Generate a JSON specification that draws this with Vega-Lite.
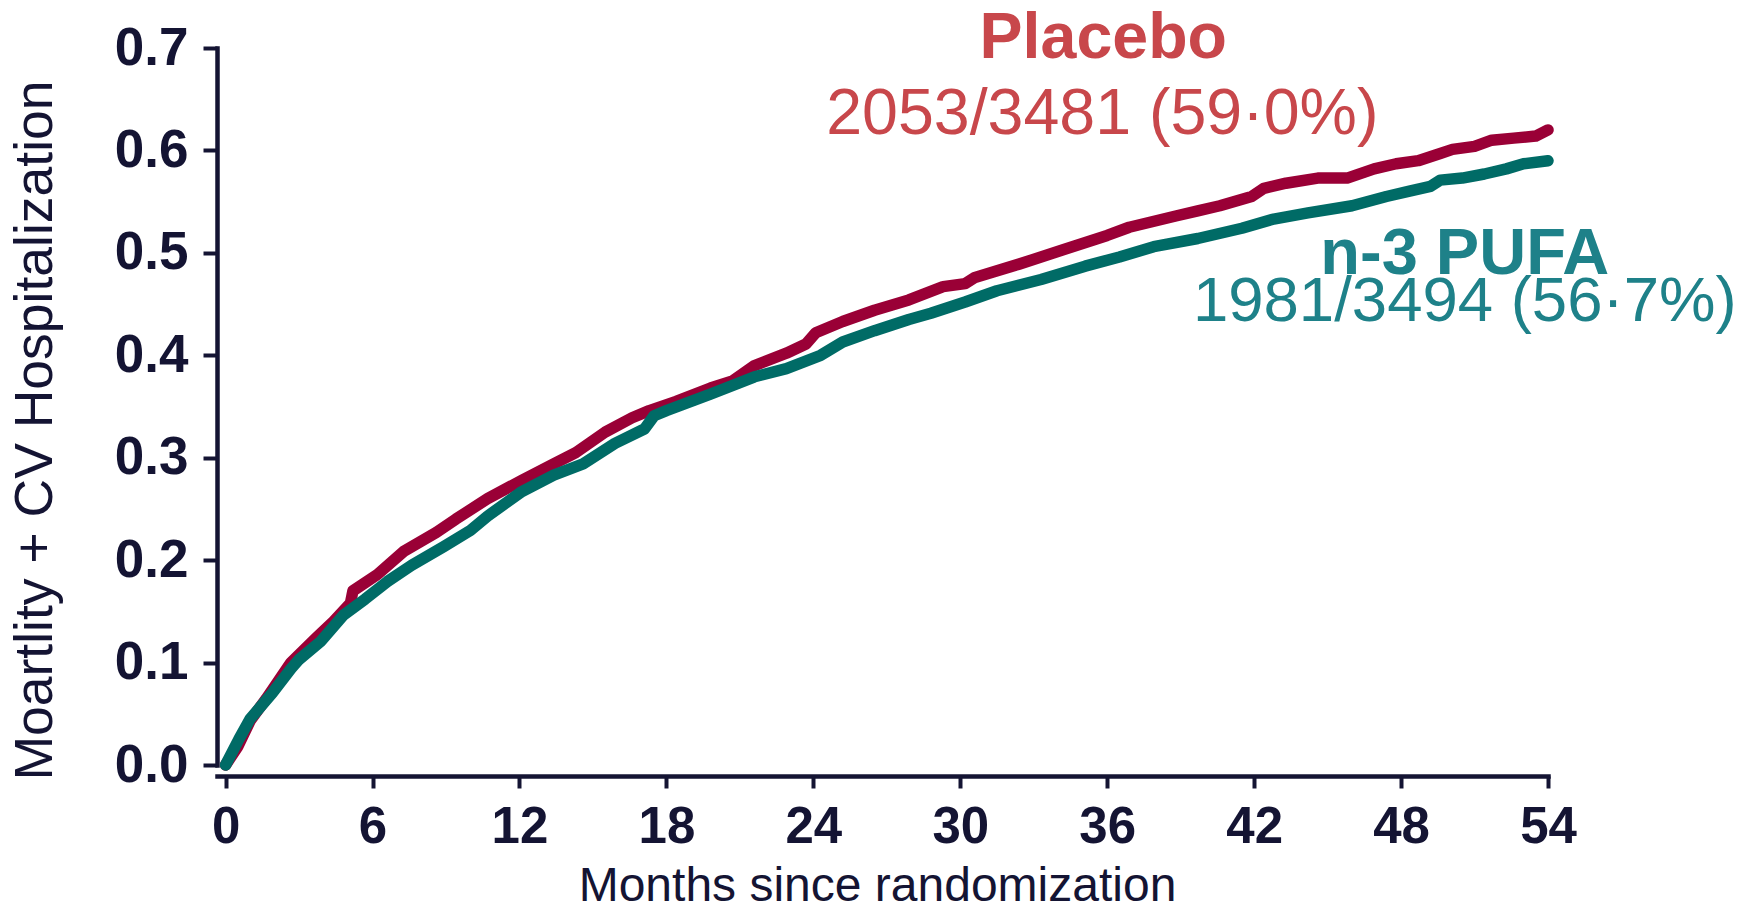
{
  "$schema": "https://vega.github.io/schema/vega-lite/v6.json",
  "width": 1331,
  "height": 717,
  "autosize": "none",
  "padding": {"left": 217, "top": 48, "right": 190, "bottom": 140},
  "background": "white",
  "config": {"view": {"stroke": null}, "font": "Liberation Sans"},
  "datasets": {
    "km": [
      {"group": "Placebo", "month": 0, "value": 0},
      {"group": "Placebo", "month": 0.5, "value": 0.018},
      {"group": "Placebo", "month": 1.0, "value": 0.043},
      {"group": "Placebo", "month": 1.67, "value": 0.065},
      {"group": "Placebo", "month": 2.67, "value": 0.1},
      {"group": "Placebo", "month": 3.7, "value": 0.124},
      {"group": "Placebo", "month": 4.4, "value": 0.14},
      {"group": "Placebo", "month": 5.1, "value": 0.158},
      {"group": "Placebo", "month": 5.2, "value": 0.17},
      {"group": "Placebo", "month": 6.2, "value": 0.186},
      {"group": "Placebo", "month": 7.3, "value": 0.209},
      {"group": "Placebo", "month": 8.6, "value": 0.227},
      {"group": "Placebo", "month": 9.4, "value": 0.24},
      {"group": "Placebo", "month": 10.7, "value": 0.26},
      {"group": "Placebo", "month": 12.1, "value": 0.278},
      {"group": "Placebo", "month": 13.4, "value": 0.294},
      {"group": "Placebo", "month": 14.3, "value": 0.305},
      {"group": "Placebo", "month": 15.5, "value": 0.325},
      {"group": "Placebo", "month": 16.6, "value": 0.339},
      {"group": "Placebo", "month": 17.3, "value": 0.346},
      {"group": "Placebo", "month": 18.4, "value": 0.355},
      {"group": "Placebo", "month": 19.8, "value": 0.368},
      {"group": "Placebo", "month": 20.7, "value": 0.375},
      {"group": "Placebo", "month": 21.6, "value": 0.39},
      {"group": "Placebo", "month": 22.9, "value": 0.402},
      {"group": "Placebo", "month": 23.7, "value": 0.411},
      {"group": "Placebo", "month": 24.1, "value": 0.422},
      {"group": "Placebo", "month": 25.2, "value": 0.433},
      {"group": "Placebo", "month": 26.5, "value": 0.444},
      {"group": "Placebo", "month": 27.9, "value": 0.454},
      {"group": "Placebo", "month": 29.3, "value": 0.467},
      {"group": "Placebo", "month": 30.2, "value": 0.47},
      {"group": "Placebo", "month": 30.6, "value": 0.476},
      {"group": "Placebo", "month": 32.4, "value": 0.489},
      {"group": "Placebo", "month": 34.2, "value": 0.503},
      {"group": "Placebo", "month": 36.0, "value": 0.517},
      {"group": "Placebo", "month": 36.9, "value": 0.525},
      {"group": "Placebo", "month": 38.8, "value": 0.536},
      {"group": "Placebo", "month": 39.7, "value": 0.541},
      {"group": "Placebo", "month": 40.6, "value": 0.546},
      {"group": "Placebo", "month": 41.9, "value": 0.555},
      {"group": "Placebo", "month": 42.4, "value": 0.563},
      {"group": "Placebo", "month": 43.3, "value": 0.568},
      {"group": "Placebo", "month": 44.6, "value": 0.573},
      {"group": "Placebo", "month": 45.8, "value": 0.573},
      {"group": "Placebo", "month": 46.9, "value": 0.582},
      {"group": "Placebo", "month": 47.8, "value": 0.587},
      {"group": "Placebo", "month": 48.7, "value": 0.59},
      {"group": "Placebo", "month": 49.6, "value": 0.597},
      {"group": "Placebo", "month": 50.1, "value": 0.601},
      {"group": "Placebo", "month": 51.0, "value": 0.604},
      {"group": "Placebo", "month": 51.7, "value": 0.61},
      {"group": "Placebo", "month": 52.6, "value": 0.612},
      {"group": "Placebo", "month": 53.5, "value": 0.614},
      {"group": "Placebo", "month": 54.0, "value": 0.62},
      {"group": "n-3 PUFA", "month": 0, "value": 0},
      {"group": "n-3 PUFA", "month": 0.54, "value": 0.025},
      {"group": "n-3 PUFA", "month": 1.0, "value": 0.045},
      {"group": "n-3 PUFA", "month": 1.9, "value": 0.07},
      {"group": "n-3 PUFA", "month": 2.67, "value": 0.094},
      {"group": "n-3 PUFA", "month": 3.0, "value": 0.103},
      {"group": "n-3 PUFA", "month": 3.9, "value": 0.121},
      {"group": "n-3 PUFA", "month": 4.8, "value": 0.146},
      {"group": "n-3 PUFA", "month": 5.7, "value": 0.162},
      {"group": "n-3 PUFA", "month": 6.6, "value": 0.179},
      {"group": "n-3 PUFA", "month": 7.6, "value": 0.195},
      {"group": "n-3 PUFA", "month": 8.9, "value": 0.213},
      {"group": "n-3 PUFA", "month": 10.0, "value": 0.229},
      {"group": "n-3 PUFA", "month": 10.7, "value": 0.243},
      {"group": "n-3 PUFA", "month": 12.1, "value": 0.267},
      {"group": "n-3 PUFA", "month": 13.4, "value": 0.283},
      {"group": "n-3 PUFA", "month": 14.6, "value": 0.294},
      {"group": "n-3 PUFA", "month": 15.9, "value": 0.314},
      {"group": "n-3 PUFA", "month": 17.1, "value": 0.328},
      {"group": "n-3 PUFA", "month": 17.5, "value": 0.341},
      {"group": "n-3 PUFA", "month": 18.0, "value": 0.346},
      {"group": "n-3 PUFA", "month": 19.8, "value": 0.362},
      {"group": "n-3 PUFA", "month": 21.6, "value": 0.379},
      {"group": "n-3 PUFA", "month": 22.9, "value": 0.387},
      {"group": "n-3 PUFA", "month": 24.3, "value": 0.4},
      {"group": "n-3 PUFA", "month": 25.2, "value": 0.413},
      {"group": "n-3 PUFA", "month": 26.5, "value": 0.424},
      {"group": "n-3 PUFA", "month": 27.9, "value": 0.435},
      {"group": "n-3 PUFA", "month": 28.8, "value": 0.441},
      {"group": "n-3 PUFA", "month": 30.2, "value": 0.452},
      {"group": "n-3 PUFA", "month": 31.5, "value": 0.463},
      {"group": "n-3 PUFA", "month": 33.3, "value": 0.474},
      {"group": "n-3 PUFA", "month": 35.1, "value": 0.487},
      {"group": "n-3 PUFA", "month": 36.5, "value": 0.496},
      {"group": "n-3 PUFA", "month": 37.9, "value": 0.506},
      {"group": "n-3 PUFA", "month": 39.7, "value": 0.514},
      {"group": "n-3 PUFA", "month": 41.5, "value": 0.524},
      {"group": "n-3 PUFA", "month": 42.8, "value": 0.533},
      {"group": "n-3 PUFA", "month": 44.2, "value": 0.539},
      {"group": "n-3 PUFA", "month": 46.0, "value": 0.546},
      {"group": "n-3 PUFA", "month": 47.4, "value": 0.555},
      {"group": "n-3 PUFA", "month": 48.3, "value": 0.56},
      {"group": "n-3 PUFA", "month": 49.2, "value": 0.565},
      {"group": "n-3 PUFA", "month": 49.6, "value": 0.571},
      {"group": "n-3 PUFA", "month": 50.5, "value": 0.573},
      {"group": "n-3 PUFA", "month": 51.4, "value": 0.577},
      {"group": "n-3 PUFA", "month": 52.3, "value": 0.582},
      {"group": "n-3 PUFA", "month": 53.0, "value": 0.587},
      {"group": "n-3 PUFA", "month": 54.0, "value": 0.59}
    ]
  },
  "data": {"name": "km"},
  "layer": [
    {
      "transform": [{"filter": "datum.group === 'Placebo'"}],
      "mark": {"type": "line", "color": "#9a0036", "strokeWidth": 11.5, "strokeCap": "round", "strokeJoin": "round"},
      "encoding": {
        "x": {
          "field": "month", "type": "quantitative",
          "scale": {"domain": [-0.35, 54], "nice": false, "zero": false},
          "axis": {
            "values": [0, 6, 12, 18, 24, 30, 36, 42, 48, 54],
            "title": "Months since randomization",
            "titleFont": "Liberation Sans", "titleFontSize": 48, "titleFontWeight": "normal", "titleColor": "#141433",
            "titleX": 660, "titleY": 124, "titleBaseline": "alphabetic", "titleAnchor": null, "titleAlign": "center",
            "offset": 11,
            "domainColor": "#141433", "domainWidth": 4.5, "domainCap": "square",
            "tickColor": "#141433", "tickWidth": 4, "tickSize": 12,
            "labelFont": "Liberation Sans", "labelFontSize": 51, "labelFontWeight": "bold", "labelColor": "#141433",
            "labelPadding": 14, "labelFlush": false, "labelOverlap": false,
            "grid": false
          }
        },
        "y": {
          "field": "value", "type": "quantitative",
          "scale": {"domain": [0, 0.7], "nice": false},
          "axis": {
            "values": [0, 0.1, 0.2, 0.3, 0.4, 0.5, 0.6, 0.7],
            "format": ".1f",
            "title": "Moartlity + CV Hospitalization",
            "titleFont": "Liberation Sans", "titleFontSize": 53.5, "titleFontWeight": "normal", "titleColor": "#141433",
            "titleX": -155, "titleY": 382, "titleAngle": -90, "titleBaseline": "bottom", "titleAlign": "center", "titleAnchor": null,
            "domainColor": "#141433", "domainWidth": 4.5, "domainCap": "square",
            "tickColor": "#141433", "tickWidth": 4, "tickSize": 14,
            "labelFont": "Liberation Sans", "labelFontSize": 53, "labelFontWeight": "bold", "labelColor": "#141433",
            "labelPadding": 15, "labelFlush": false, "labelOverlap": false,
            "grid": false
          }
        }
      }
    },
    {
      "transform": [{"filter": "datum.group === 'n-3 PUFA'"}],
      "mark": {"type": "line", "color": "#006b66", "strokeWidth": 11.5, "strokeCap": "round", "strokeJoin": "round"},
      "encoding": {
        "x": {"field": "month", "type": "quantitative"},
        "y": {"field": "value", "type": "quantitative"}
      }
    },
    {
      "data": {"values": [{"label": "Placebo"}]},
      "mark": {"type": "text", "font": "Liberation Sans", "fontSize": 64.5, "fontWeight": "bold", "color": "#c8474b", "align": "center", "baseline": "alphabetic"},
      "encoding": {
        "x": {"datum": 35.84, "type": "quantitative"},
        "y": {"datum": 0.69, "type": "quantitative"},
        "text": {"field": "label"}
      }
    },
    {
      "data": {"values": [{"label": "2053/3481 (59·0%)"}]},
      "mark": {"type": "text", "font": "Liberation Sans", "fontSize": 64.5, "fontWeight": "normal", "color": "#c8474b", "align": "center", "baseline": "alphabetic"},
      "encoding": {
        "x": {"datum": 35.8, "type": "quantitative"},
        "y": {"datum": 0.616, "type": "quantitative"},
        "text": {"field": "label"}
      }
    },
    {
      "data": {"values": [{"label": "n-3 PUFA"}]},
      "mark": {"type": "text", "font": "Liberation Sans", "fontSize": 65, "fontWeight": "bold", "color": "#1e8189", "align": "center", "baseline": "alphabetic"},
      "encoding": {
        "x": {"datum": 50.6, "type": "quantitative"},
        "y": {"datum": 0.4796, "type": "quantitative"},
        "text": {"field": "label"}
      }
    },
    {
      "data": {"values": [{"label": "1981/3494 (56·7%)"}]},
      "mark": {"type": "text", "font": "Liberation Sans", "fontSize": 63.5, "fontWeight": "normal", "color": "#1e8189", "align": "center", "baseline": "alphabetic"},
      "encoding": {
        "x": {"datum": 50.6, "type": "quantitative"},
        "y": {"datum": 0.433, "type": "quantitative"},
        "text": {"field": "label"}
      }
    }
  ]
}
